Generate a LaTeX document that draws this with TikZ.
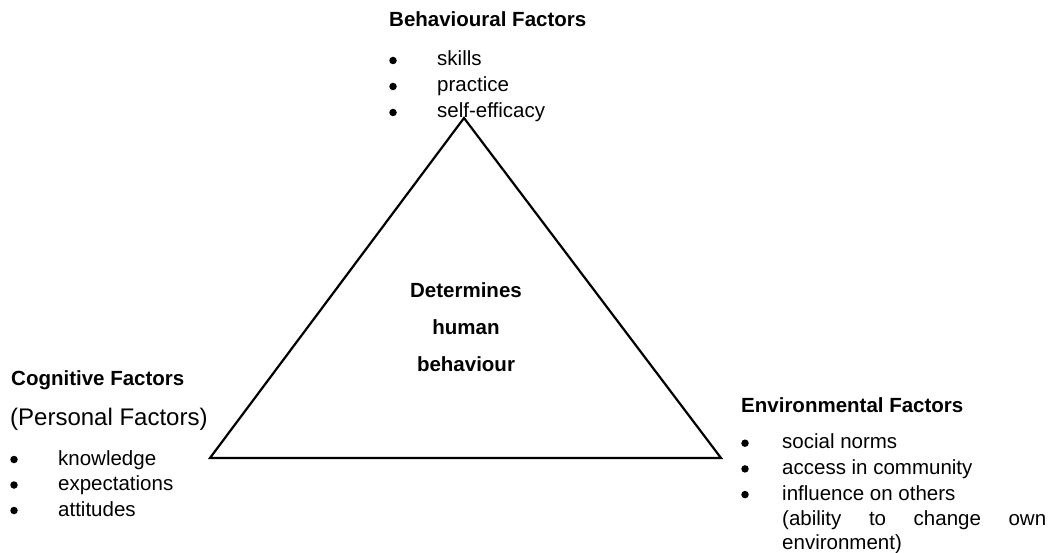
\documentclass[tikz,border=0pt]{standalone}
\usepackage{fontspec}
\setmainfont{Liberation Sans}
\begin{document}
\begin{tikzpicture}[x=1pt, y=-1pt,
        head/.style={font=\fontsize{20.5}{24}\selectfont\bfseries, anchor=base west, inner sep=0pt},
        item/.style={font=\fontsize{20.5}{24}\selectfont, anchor=base west, inner sep=0pt},
        dot/.style={circle, fill=black, inner sep=0pt, minimum size=7.5pt},
        mid/.style={font=\fontsize{20.5}{24}\selectfont\bfseries, anchor=base, inner sep=0pt}]
        \useasboundingbox (0,0) rectangle (1049,553);

        % the triangle
        \coordinate (top) at (464,118);
        \coordinate (bl) at (210,458);
        \coordinate (br) at (721,458);
        \draw[line width=2.2pt, line join=miter] (top) -- (bl) -- (br) -- cycle;

        % centre text
        \foreach \txt [count=\i] in {Determines, human, behaviour}
            \node[mid] (det\i) at (466, 261.5+36.5*\i) {\txt};

        % behavioural factors
        \node[head] (beh) at (389,27) {Behavioural Factors};
        \foreach \txt [count=\i] in {skills, practice, self-efficacy} {
            \node[dot] (bd\i) at (393, 34.5+26*\i) {};
            \node[item] (bi\i) at (437, 40+26*\i) {\txt};
        }

        % cognitive factors
        \node[head] (cog) at (11,385) {Cognitive Factors};
        \node[item, font=\fontsize{24}{28}\selectfont] (pers) at (10,425) {(Personal Factors)};
        \foreach \txt [count=\i] in {knowledge, expectations, attitudes} {
            \node[dot] (cd\i) at (14, 434+25.5*\i) {};
            \node[item] (ci\i) at (58, 439.5+25.5*\i) {\txt};
        }

        % environmental factors
        \node[head] (env) at (741,412) {Environmental Factors};
        \foreach \txt [count=\i] in {social norms, access in community, influence on others} {
            \node[dot] (ed\i) at (745, 417.5+25.7*\i) {};
            \node[item] (ei\i) at (782, 423+25.7*\i) {\txt};
        }
        \node[item] (ei4) at (782,525.7) {\makebox[264pt][s]{(ability to change own}};
        \node[item] (ei5) at (782,549.5) {environment)};
\end{tikzpicture}
\end{document}
